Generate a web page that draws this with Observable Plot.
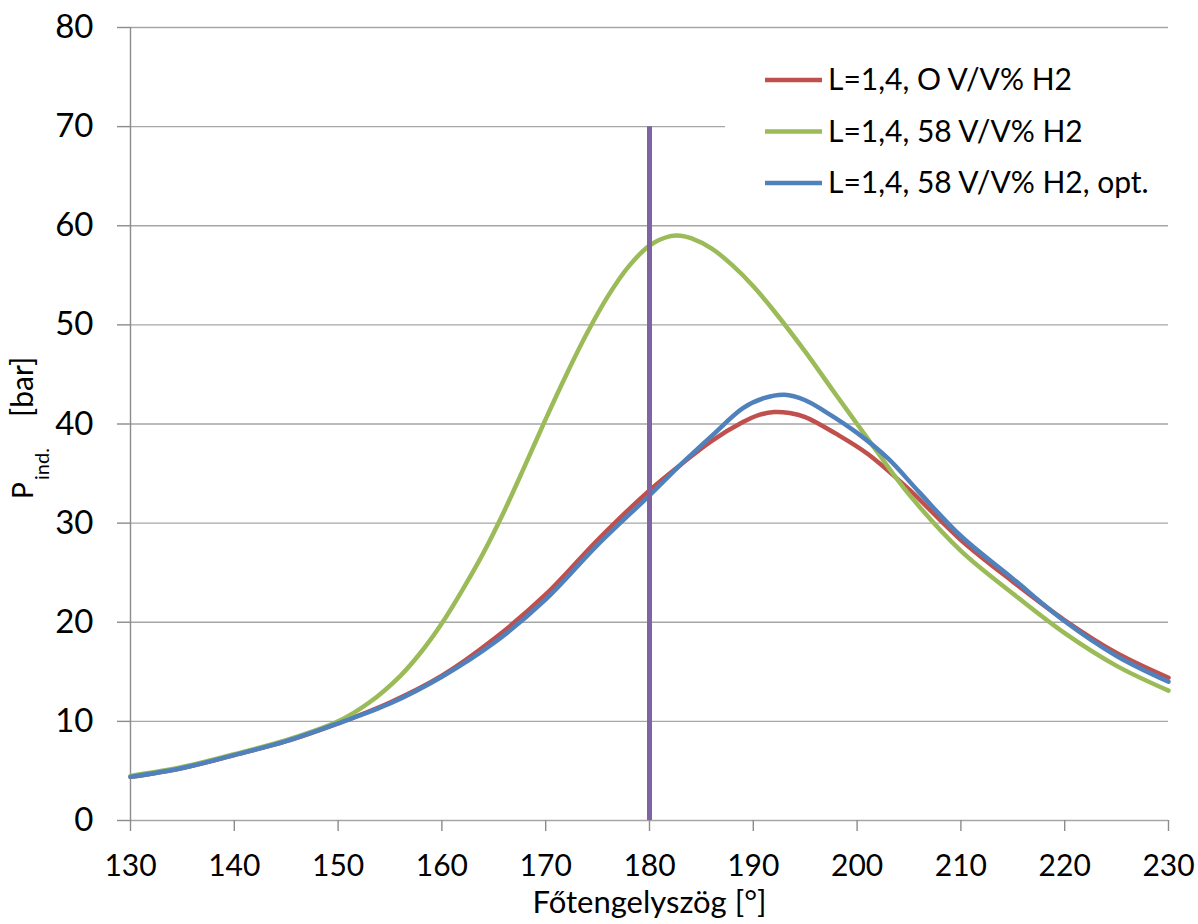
<!DOCTYPE html>
<html>
<head>
<meta charset="utf-8">
<script src="https://cdn.jsdelivr.net/npm/d3@7"></script>
<script src="https://cdn.jsdelivr.net/npm/@observablehq/plot@0.6"></script>
<style>
  html, body { margin: 0; padding: 0; background: #fff; }
  #chart { width: 1198px; height: 924px; }
</style>
</head>
<body>
<div id="chart"></div>
<script>
// Indicated cylinder pressure vs. crank angle, three operating cases
const seriesNames = ["L=1,4, O V/V% H2", "L=1,4, 58 V/V% H2", "L=1,4, 58 V/V% H2, opt."];
const seriesColors = ["#C0504D", "#9BBB59", "#4F81BD"];

const angleRef = [130, 135, 140, 145, 150, 155, 160, 165, 170, 175, 180, 183, 186, 189, 190.5, 192, 193.5, 195, 198, 201, 205, 210, 215, 220, 225, 230];
const pressureRef = [4.4, 5.3, 6.6, 8.0, 9.8, 11.9, 14.6, 18.3, 22.8, 28.3, 33.3, 35.9, 38.3, 40.2, 40.9, 41.2, 41.1, 40.7, 39.0, 37.0, 33.4, 28.3, 24.1, 20.2, 16.9, 14.4];

const angleH2 = [130, 135, 140, 145, 150, 153, 156, 158, 160, 162, 164, 166, 168, 170, 172, 174, 176, 178, 180, 182, 183, 184, 186, 188, 190, 192, 195, 198, 200, 202, 205, 210, 215, 220, 225, 230];
const pressureH2 = [4.5, 5.4, 6.7, 8.1, 10.0, 11.9, 14.6, 17.0, 19.9, 23.3, 27.0, 31.2, 35.8, 40.5, 45.0, 49.2, 52.9, 55.9, 58.0, 58.95, 59.0, 58.75, 57.7, 56.0, 53.9, 51.4, 47.3, 42.9, 40.0, 37.1, 32.9, 27.2, 22.9, 18.9, 15.6, 13.1];

const angleOpt = [130, 135, 140, 145, 150, 155, 160, 165, 170, 175, 180, 183, 186, 189, 191, 193, 195, 197, 200, 203, 206, 210, 215, 220, 225, 230];
const pressureOpt = [4.4, 5.3, 6.6, 8.0, 9.8, 11.8, 14.5, 17.9, 22.3, 27.8, 32.8, 35.9, 38.8, 41.6, 42.6, 42.95, 42.4, 41.2, 39.1, 36.5, 33.1, 28.7, 24.4, 20.1, 16.6, 14.0];

// Ignition marker at 180 degrees
const markerAngle = [180];
const markerTop = 70;
const markerColor = "#8064A2";

const xTicks = [130, 140, 150, 160, 170, 180, 190, 200, 210, 220, 230];
const yTicks = [0, 10, 20, 30, 40, 50, 60, 70, 80];

const xLabel = "Főtengelyszög [°]";
const yLabelMain = "P";
const yLabelSub = "ind.";
const yLabelUnit = "[bar]";

const curves = [
  {name: seriesNames[0], color: seriesColors[0], xs: angleRef, ys: pressureRef},
  {name: seriesNames[1], color: seriesColors[1], xs: angleH2, ys: pressureH2},
  {name: seriesNames[2], color: seriesColors[2], xs: angleOpt, ys: pressureOpt}
];
const rows = curves.flatMap(c => c.xs.map((x, i) => ({series: c.name, angle: x, p: c.ys[i]})));

const font = "Lato, 'Open Sans', sans-serif";
const axisGray = "#8c8c8c";

const plot = Plot.plot({
  width: 1198,
  height: 924,
  marginLeft: 130,
  marginRight: 30,
  marginTop: 27,
  marginBottom: 104,
  style: {fontFamily: font, color: "#000", background: "#fff", overflow: "visible"},
  x: {domain: [130, 230]},
  y: {domain: [0, 80]},
  color: {domain: seriesNames, range: seriesColors},
  marks: [
    Plot.gridY(yTicks, {stroke: "#a6a6a6", strokeOpacity: 1, strokeWidth: 1.4}),
    Plot.ruleX([130], {stroke: axisGray, strokeWidth: 1.4}),
    Plot.axisY({ticks: yTicks, tickSize: 13, tickPadding: 24, fontSize: 33, stroke: axisGray, strokeWidth: 1.4, label: null}),
    Plot.axisX({ticks: xTicks, tickSize: 11, tickPadding: 23, fontSize: 30, stroke: axisGray, strokeWidth: 1.4, label: null}),
    Plot.line(rows, {x: "angle", y: "p", z: "series", stroke: "series", strokeWidth: 4.5, curve: "catmull-rom"}),
    Plot.ruleX(markerAngle, {y1: 0, y2: markerTop, stroke: markerColor, strokeWidth: 5}),
    Plot.text([xLabel], {frameAnchor: "bottom", lineAnchor: "middle", dy: 83, fontSize: 31, fill: "#000"})
  ]
});
document.getElementById("chart").appendChild(plot);

const svg = d3.select(plot);

// Rotated y-axis title with subscript
const yTitle = svg.append("text")
  .attr("transform", "translate(33,499) rotate(-90)")
  .attr("text-anchor", "start")
  .attr("font-family", font)
  .attr("fill", "#000");
yTitle.append("tspan").attr("x", 0).attr("y", 0).attr("font-size", 28).text(yLabelMain);
yTitle.append("tspan").attr("x", 19).attr("y", 16).attr("font-size", 20).text(yLabelSub);
yTitle.append("tspan").attr("x", 82).attr("y", 0).attr("font-size", 30).text(yLabelUnit);

// Legend box
const legend = svg.append("g").attr("text-anchor", "start");
legend.append("rect").attr("x", 725).attr("y", 45).attr("width", 443).attr("height", 170).attr("fill", "#fff");
curves.forEach((c, i) => {
  const cy = 80 + i * 51.5;
  legend.append("line")
    .attr("x1", 765).attr("x2", 822).attr("y1", cy).attr("y2", cy)
    .attr("stroke", c.color).attr("stroke-width", 4.5);
  legend.append("text")
    .attr("x", 828).attr("y", cy + 10)
    .attr("font-family", font).attr("font-size", 30).attr("fill", "#000")
    .text(c.name);
});
</script>
</body>
</html>
